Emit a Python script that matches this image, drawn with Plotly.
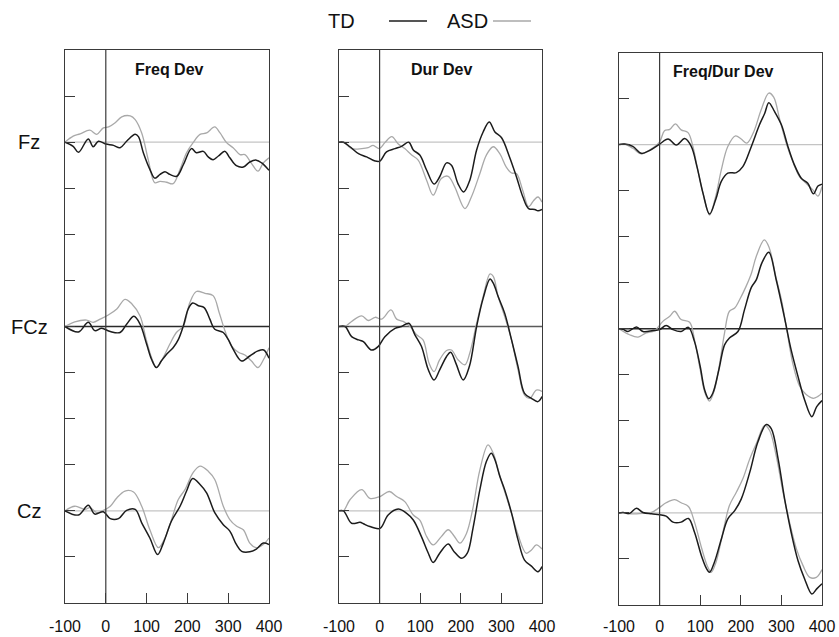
import plotly.graph_objects as go

# ---------------- data (time in ms, amplitude in tick units) ----------------
PANELS = ["Freq Dev", "Dur Dev", "Freq/Dur Dev"]
ELECTRODES = ["Fz", "FCz", "Cz"]
X_TICKS = [-100, 0, 100, 200, 300, 400]
X_TICK_TEXT = ["-100", "0", "100", "200", "300", "400"]

# Panel 1: Freq Dev
freq_fz_td_t = [-100, -80, -67, -43, -31, -18, 0, 19, 35, 51, 72, 80, 92, 108, 120, 133, 145, 157, 174, 190, 210, 222, 239, 251, 263, 276, 292, 304, 320, 337, 353, 369, 382, 400]
freq_fz_td_v = [0, -0.09, -0.22, 0.07, -0.1, 0.02, -0.04, -0.07, -0.12, 0.02, 0.17, 0.12, -0.23, -0.59, -0.78, -0.7, -0.64, -0.7, -0.74, -0.49, -0.14, -0.23, -0.2, -0.32, -0.38, -0.3, -0.2, -0.34, -0.51, -0.54, -0.43, -0.39, -0.45, -0.61]
freq_fz_asd_t = [-100, -80, -63, -39, -22, -6, 7, 23, 39, 60, 72, 88, 104, 120, 133, 149, 165, 182, 198, 214, 231, 247, 267, 280, 296, 312, 329, 341, 357, 373, 386, 400]
freq_fz_asd_v = [0, 0.13, 0.18, 0.26, 0.17, 0.31, 0.33, 0.42, 0.55, 0.57, 0.49, 0.2, -0.38, -0.88, -0.85, -0.87, -0.9, -0.59, -0.23, -0.01, 0.17, 0.2, 0.33, 0.2, -0.01, -0.12, -0.27, -0.27, -0.46, -0.63, -0.45, -0.34]
freq_fcz_td_t = [-100, -67, -43, -27, -10, 11, 35, 51, 69, 84, 100, 112, 124, 136, 149, 165, 178, 190, 202, 213, 227, 241, 255, 267, 288, 300, 312, 333, 353, 373, 387, 400]
freq_fcz_td_v = [0, -0.12, 0.09, -0.09, -0.04, -0.11, -0.13, 0.05, 0.22, 0.05, -0.38, -0.71, -0.89, -0.75, -0.6, -0.46, -0.28, 0.01, 0.38, 0.51, 0.45, 0.41, 0.16, -0.06, -0.13, -0.28, -0.49, -0.75, -0.64, -0.53, -0.51, -0.69]
freq_fcz_asd_t = [-100, -76, -47, -31, -14, 6, 27, 47, 64, 84, 99, 112, 124, 141, 157, 173, 190, 206, 222, 243, 263, 278, 292, 308, 325, 341, 357, 373, 387, 400]
freq_fcz_asd_v = [0, 0.1, 0.14, 0.09, 0.16, 0.25, 0.38, 0.59, 0.49, 0.23, -0.28, -0.67, -0.89, -0.67, -0.38, -0.13, 0.01, 0.52, 0.76, 0.72, 0.67, 0.3, -0.09, -0.42, -0.56, -0.62, -0.75, -0.89, -0.71, -0.46]
freq_cz_td_t = [-100, -67, -43, -27, -6, 11, 31, 51, 72, 88, 108, 127, 141, 161, 182, 198, 213, 231, 247, 267, 288, 304, 320, 333, 353, 369, 386, 400]
freq_cz_td_v = [0, -0.09, 0.12, -0.07, -0.02, -0.17, -0.17, 0.01, 0.03, -0.26, -0.59, -0.95, -0.7, -0.22, 0.1, 0.43, 0.7, 0.57, 0.39, -0.04, -0.3, -0.44, -0.73, -0.88, -0.89, -0.83, -0.7, -0.73]
freq_cz_asd_t = [-100, -76, -51, -39, -22, -6, 11, 27, 47, 68, 88, 108, 129, 145, 161, 178, 194, 214, 231, 251, 267, 288, 304, 320, 337, 353, 369, 386, 400]
freq_cz_asd_v = [0, 0.1, 0.03, 0.07, -0.04, 0.01, 0.1, 0.28, 0.43, 0.41, 0.1, -0.41, -0.8, -0.59, -0.19, 0.25, 0.46, 0.83, 0.97, 0.86, 0.68, 0.1, -0.19, -0.33, -0.41, -0.7, -0.8, -0.73, -0.59]

# Panel 2: Dur Dev
dur_fz_td_t = [-100, -89, -73, -52, -32, -11, 1, 17, 38, 54, 72, 83, 99, 116, 134, 148, 165, 177, 193, 207, 222, 239, 255, 270, 284, 300, 320, 337, 353, 367, 382, 390, 400]
dur_fz_td_v = [0, 0, -0.1, -0.25, -0.32, -0.41, -0.41, -0.21, -0.14, -0.09, 0, -0.17, -0.28, -0.61, -0.91, -0.75, -0.45, -0.5, -0.9, -1.08, -0.83, -0.17, 0.22, 0.44, 0.22, 0.1, -0.32, -0.75, -1.19, -1.44, -1.46, -1.49, -1.46]
dur_fz_asd_t = [-100, -89, -69, -44, -28, -16, -1, 13, 30, 46, 62, 79, 95, 116, 132, 152, 169, 185, 210, 226, 247, 263, 280, 296, 312, 325, 337, 353, 367, 380, 390, 400]
dur_fz_asd_v = [0, 0, -0.14, -0.14, -0.12, -0.07, -0.14, -0.01, 0.12, -0.04, -0.14, -0.28, -0.39, -0.83, -1.15, -0.79, -0.74, -0.97, -1.44, -1.19, -0.68, -0.28, -0.1, -0.25, -0.54, -0.67, -0.68, -1.06, -1.4, -1.26, -1.19, -1.3]
dur_fcz_td_t = [-100, -85, -69, -52, -40, -20, -3, 13, 38, 54, 72, 87, 103, 120, 134, 148, 165, 175, 188, 206, 221, 239, 255, 272, 280, 292, 308, 325, 341, 357, 374, 390, 400]
dur_fcz_td_v = [0, 0, -0.22, -0.29, -0.33, -0.51, -0.43, -0.22, -0.04, 0, 0.07, -0.18, -0.43, -0.94, -1.16, -0.94, -0.65, -0.56, -0.8, -1.16, -0.87, 0, 0.61, 1.03, 0.94, 0.65, 0.29, -0.29, -0.87, -1.45, -1.56, -1.63, -1.52]
dur_fcz_asd_t = [-100, -85, -69, -44, -28, -11, 5, 28, 42, 58, 75, 91, 107, 122, 134, 148, 165, 177, 193, 210, 222, 239, 255, 272, 280, 292, 308, 325, 341, 357, 370, 386, 400]
dur_fcz_asd_v = [0, 0, 0.11, 0.23, 0.13, 0.2, 0.16, 0.36, 0.16, 0.11, 0, -0.18, -0.29, -0.8, -0.98, -0.72, -0.52, -0.51, -0.72, -0.83, -0.58, 0.07, 0.65, 1.14, 1.09, 0.65, 0.22, -0.29, -0.94, -1.49, -1.56, -1.38, -1.41]
dur_cz_td_t = [-100, -89, -69, -48, -40, -24, 1, 21, 46, 66, 83, 103, 120, 132, 148, 169, 183, 202, 216, 230, 247, 263, 275, 284, 296, 308, 325, 341, 357, 374, 390, 400]
dur_cz_td_v = [0, 0, -0.27, -0.25, -0.28, -0.34, -0.38, -0.09, 0.04, -0.05, -0.2, -0.56, -0.92, -1.12, -0.92, -0.72, -0.88, -1.03, -0.92, -0.38, 0.46, 1.07, 1.25, 1.11, 0.75, 0.46, -0.05, -0.63, -1.07, -1.2, -1.32, -1.21]
dur_cz_asd_t = [-100, -89, -73, -44, -24, 1, 24, 42, 62, 83, 99, 116, 132, 152, 169, 183, 198, 214, 229, 247, 267, 280, 292, 304, 325, 341, 361, 374, 386, 400]
dur_cz_asd_v = [0, 0, 0.24, 0.46, 0.27, 0.31, 0.42, 0.31, 0.2, -0.09, -0.2, -0.56, -0.74, -0.56, -0.41, -0.54, -0.7, -0.49, 0.02, 0.89, 1.43, 1.25, 0.89, 0.53, -0.05, -0.52, -0.92, -0.85, -0.74, -0.83]

# Panel 3: Freq/Dur Dev
fd_fz_td_t = [-100, -86, -66, -45, -25, 0, 21, 41, 62, 78, 92, 107, 123, 138, 152, 168, 189, 205, 226, 246, 259, 269, 283, 300, 316, 332, 349, 365, 379, 390, 400]
fd_fz_td_v = [0, 0.01, -0.04, -0.19, -0.13, 0.01, 0.12, -0.01, 0.13, -0.04, -0.48, -1.06, -1.51, -1.2, -0.8, -0.62, -0.61, -0.48, -0.04, 0.43, 0.68, 0.91, 0.72, 0.43, -0.04, -0.44, -0.73, -0.84, -1.07, -0.9, -0.86]
fd_fz_asd_t = [-100, -86, -66, -45, -25, 0, 12, 25, 39, 53, 70, 82, 94, 109, 123, 138, 152, 168, 187, 201, 215, 232, 250, 269, 281, 296, 312, 328, 345, 361, 378, 390, 400]
fd_fz_asd_v = [0, 0.01, -0.08, -0.2, -0.12, 0.06, 0.3, 0.33, 0.45, 0.32, 0.26, -0.04, -0.55, -1.13, -1.53, -1.13, -0.55, -0.04, 0.19, 0.12, 0.03, 0.28, 0.75, 1.12, 1.03, 0.54, 0.03, -0.37, -0.7, -0.84, -0.99, -1.12, -0.91]
fd_fcz_td_t = [-100, -90, -78, -57, -41, -16, 0, 16, 33, 53, 71, 86, 100, 111, 121, 131, 146, 160, 172, 193, 209, 226, 238, 252, 269, 287, 300, 312, 324, 341, 357, 375, 387, 400]
fd_fcz_td_v = [0, -0.01, -0.06, 0.04, -0.06, -0.04, -0.02, 0.07, -0.02, -0.06, 0.03, -0.28, -0.82, -1.33, -1.52, -1.4, -0.89, -0.35, -0.2, -0.06, 0.41, 0.9, 1.06, 1.43, 1.66, 1.07, 0.56, 0.05, -0.46, -1.04, -1.54, -1.91, -1.69, -1.56]
fd_fcz_asd_t = [-100, -74, -53, -33, -12, 8, 25, 37, 53, 74, 86, 100, 112, 123, 135, 148, 160, 172, 185, 197, 213, 226, 238, 258, 270, 287, 300, 312, 328, 345, 361, 378, 390, 400]
fd_fcz_asd_v = [0, -0.13, -0.18, -0.09, -0.04, 0.16, 0.27, 0.38, 0.2, 0.14, -0.24, -0.89, -1.4, -1.57, -1.33, -0.75, -0.09, 0.38, 0.45, 0.63, 0.92, 1.2, 1.57, 1.93, 1.76, 1.1, 0.63, 0.05, -0.75, -1.25, -1.43, -1.51, -1.47, -1.4]
fd_cz_td_t = [-100, -90, -74, -57, -41, -20, 0, 16, 33, 53, 71, 86, 103, 115, 123, 135, 152, 168, 185, 201, 222, 242, 263, 275, 292, 308, 324, 341, 357, 375, 387, 400]
fd_cz_td_v = [0, 0.01, -0.01, 0.1, 0.01, -0.02, -0.04, -0.07, -0.2, -0.2, -0.12, -0.42, -0.93, -1.2, -1.29, -1.07, -0.57, -0.13, 0.05, 0.3, 0.88, 1.54, 1.92, 1.83, 1.17, 0.3, -0.42, -1.04, -1.43, -1.76, -1.65, -1.54]
fd_cz_asd_t = [-100, -90, -74, -57, -41, -20, 0, 16, 37, 53, 71, 86, 103, 117, 127, 139, 156, 172, 189, 205, 222, 238, 259, 271, 287, 304, 320, 337, 353, 370, 386, 400]
fd_cz_asd_v = [0, 0.01, -0.02, -0.02, -0.01, 0.01, 0.12, 0.22, 0.29, 0.22, 0.14, -0.2, -0.75, -1.14, -1.29, -1.07, -0.42, 0.16, 0.45, 0.74, 1.17, 1.5, 1.9, 1.79, 1.25, 0.45, -0.2, -0.78, -1.14, -1.4, -1.4, -1.23]

OFFSETS = [10, 6, 2]  # vertical stacking of Fz, FCz, Cz

CURVES = [
    [(freq_fz_td_t, freq_fz_td_v, freq_fz_asd_t, freq_fz_asd_v),
     (freq_fcz_td_t, freq_fcz_td_v, freq_fcz_asd_t, freq_fcz_asd_v),
     (freq_cz_td_t, freq_cz_td_v, freq_cz_asd_t, freq_cz_asd_v)],
    [(dur_fz_td_t, dur_fz_td_v, dur_fz_asd_t, dur_fz_asd_v),
     (dur_fcz_td_t, dur_fcz_td_v, dur_fcz_asd_t, dur_fcz_asd_v),
     (dur_cz_td_t, dur_cz_td_v, dur_cz_asd_t, dur_cz_asd_v)],
    [(fd_fz_td_t, fd_fz_td_v, fd_fz_asd_t, fd_fz_asd_v),
     (fd_fcz_td_t, fd_fcz_td_v, fd_fcz_asd_t, fd_fcz_asd_v),
     (fd_cz_td_t, fd_cz_td_v, fd_cz_asd_t, fd_cz_asd_v)],
]

# ---------------- layout geometry ----------------
W, H = 839, 637
X_DOMAINS = [(65, 269), (339, 542), (619, 822)]
Y_DOMAINS = [(50, 603), (50, 603), (52.5, 605)]
LABEL_STANDOFF = [9, 9, 7]
TITLE_POS = [(169, 69), (441, 69), (723, 72)]
BASE_COLORS = [["#c4c4c4", "#2a2a2a", "#c4c4c4"],
               ["#c4c4c4", "#5a5a5a", "#c4c4c4"],
               ["#c4c4c4", "#2a2a2a", "#c4c4c4"]]
TD_COLOR = "#1c1c1c"
ASD_COLOR = "#a9a9a9"
FRAME = "#3a3a3a"
FONT = "Liberation Sans, Arial, sans-serif"

fig = go.Figure()
layout = dict(width=W, height=H, margin=dict(l=0, r=0, t=0, b=0, pad=0, autoexpand=False),
              paper_bgcolor="white", plot_bgcolor="white", showlegend=False,
              font=dict(family=FONT, color="#111"))
shapes, annotations = [], []

for p in range(3):
    xa = "x" if p == 0 else f"x{p+1}"
    ya = "y" if p == 0 else f"y{p+1}"
    for e in range(3):
        td_t, td_v, asd_t, asd_v = CURVES[p][e]
        off = OFFSETS[e]
        fig.add_trace(go.Scatter(x=asd_t, y=[off + v for v in asd_v], mode="lines",
                                 line=dict(color=ASD_COLOR, width=1.3, shape="spline", smoothing=1.0),
                                 xaxis=xa, yaxis=ya, name="ASD", hoverinfo="skip"))
        fig.add_trace(go.Scatter(x=td_t, y=[off + v for v in td_v], mode="lines",
                                 line=dict(color=TD_COLOR, width=1.5, shape="spline", smoothing=1.0),
                                 xaxis=xa, yaxis=ya, name="TD", hoverinfo="skip"))
        shapes.append(dict(type="line", xref=f"{xa} domain", yref=ya, x0=0, x1=1, y0=off, y1=off,
                           line=dict(color=BASE_COLORS[p][e], width=1.3), layer="below"))
    # zero-time line
    shapes.append(dict(type="line", xref=xa, yref=f"{ya} domain", x0=0, x1=0, y0=0, y1=1,
                       line=dict(color=FRAME, width=1.2)))
    x0, x1 = X_DOMAINS[p]
    y0, y1 = Y_DOMAINS[p]
    key = "" if p == 0 else str(p + 1)
    layout["xaxis" + key] = dict(domain=[x0 / W, x1 / W], range=[-100, 400], anchor=ya,
                                 automargin=False,
                                 showgrid=False, zeroline=False, showline=True, mirror=True,
                                 linecolor=FRAME, linewidth=1.3, ticks="inside", ticklen=10,
                                 tickwidth=1.2, tickcolor=FRAME, tickvals=X_TICKS,
                                 ticktext=X_TICK_TEXT, ticklabelstandoff=LABEL_STANDOFF[p],
                                 tickfont=dict(size=16, family=FONT, color="#111"))
    layout["yaxis" + key] = dict(domain=[1 - y1 / H, 1 - y0 / H], range=[0, 12], anchor=xa,
                                 automargin=False,
                                 showgrid=False, zeroline=False, showline=True, mirror=True,
                                 linecolor=FRAME, linewidth=1.3, ticks="inside", ticklen=10,
                                 tickwidth=1.2, tickcolor=FRAME, tickvals=list(range(1, 12)),
                                 showticklabels=False)
    tx, ty = TITLE_POS[p]
    annotations.append(dict(text=f"<b>{PANELS[p]}</b>", x=tx / W, y=1 - ty / H, xref="paper",
                            yref="paper", showarrow=False, xanchor="center", yanchor="middle",
                            font=dict(size=16, family=FONT, color="#111")))

# electrode labels
for e, name in enumerate(ELECTRODES):
    annotations.append(dict(text=name, x=29 / W, y=OFFSETS[e], xref="paper", yref="y",
                            showarrow=False, xanchor="center", yanchor="middle",
                            font=dict(size=20, family=FONT, color="#111")))

# legend (text followed by line sample)
annotations.append(dict(text="TD", x=341 / W, y=1 - 21 / H, xref="paper", yref="paper",
                        showarrow=False, xanchor="center", yanchor="middle",
                        font=dict(size=20, family=FONT, color="#111")))
annotations.append(dict(text="ASD", x=467 / W, y=1 - 21 / H, xref="paper", yref="paper",
                        showarrow=False, xanchor="center", yanchor="middle",
                        font=dict(size=20, family=FONT, color="#111")))
shapes.append(dict(type="line", xref="paper", yref="paper", x0=389 / W, x1=427 / W,
                   y0=1 - 21 / H, y1=1 - 21 / H, line=dict(color=TD_COLOR, width=1.5)))
shapes.append(dict(type="line", xref="paper", yref="paper", x0=493 / W, x1=531 / W,
                   y0=1 - 21 / H, y1=1 - 21 / H, line=dict(color=ASD_COLOR, width=1.5)))

layout["shapes"] = shapes
layout["annotations"] = annotations
fig.update_layout(**layout)
fig.write_html("out.html")
